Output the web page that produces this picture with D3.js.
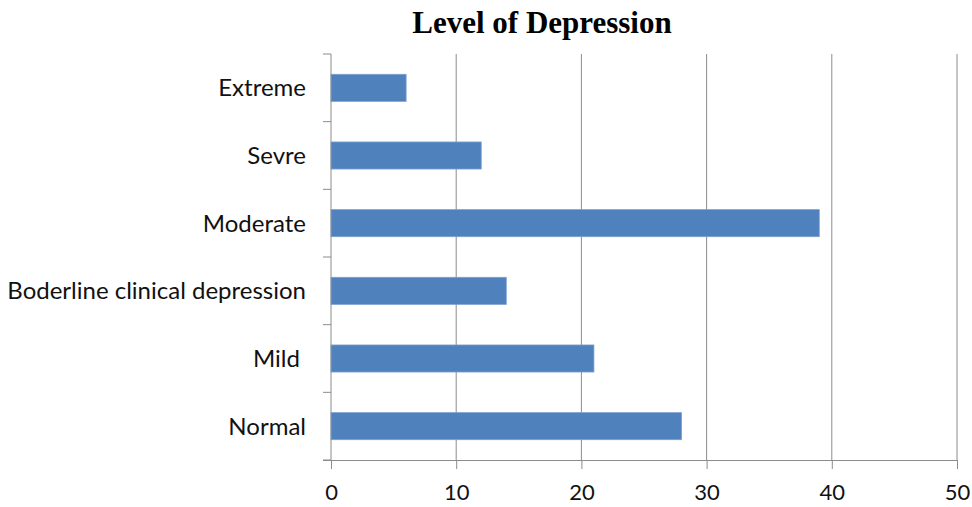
<!DOCTYPE html>
<html>
<head>
<meta charset="utf-8">
<script src="https://cdn.jsdelivr.net/npm/d3@7"></script>
<style>
  html, body { margin: 0; padding: 0; background: #fff; }
  svg { display: block; }
  .cat { white-space: pre; }
</style>
</head>
<body>
<svg id="chart" width="972" height="507"></svg>
<script>
// Depression level categories, listed top to bottom
const categories = ["Extreme", "Sevre", "Moderate", "Boderline clinical depression", "Mild ", "Normal"];
// Number of respondents per level
const counts = [6, 12, 39, 14, 21, 28];
// Value axis ticks
const xTicks = [0, 10, 20, 30, 40, 50];

const svg = d3.select("#chart");
const margin = { left: 331, right: 15, top: 54, bottom: 47 };
const W = 972, H = 507;

const x = d3.scaleLinear().domain([0, 50]).range([margin.left, W - margin.right]);
const y = d3.scaleBand().domain(categories).range([margin.top, H - margin.bottom]).paddingInner(0.6).paddingOuter(0.3);
const yOuter = d3.scaleBand().domain(categories).range([margin.top, H - margin.bottom]);

const labelFont = "Lato, 'Open Sans', sans-serif";
const gridColor = "#8c8c8c";

// Title
svg.append("text")
  .attr("x", 542).attr("y", 33)
  .attr("text-anchor", "middle")
  .attr("font-family", "'Liberation Serif', 'Times New Roman', serif")
  .attr("font-weight", "bold")
  .attr("font-size", 31)
  .attr("fill", "#000")
  .text("Level of Depression");

// Vertical gridlines
svg.append("g")
  .selectAll("line")
  .data(xTicks.slice(1))
  .join("line")
  .attr("x1", d => x(d)).attr("x2", d => x(d))
  .attr("y1", margin.top).attr("y2", H - margin.bottom)
  .attr("stroke", gridColor).attr("stroke-width", 1);

// Bars
svg.append("g")
  .selectAll("rect")
  .data(categories)
  .join("rect")
  .attr("x", x(0))
  .attr("y", d => y(d))
  .attr("width", (d, i) => x(counts[i]) - x(0))
  .attr("height", y.bandwidth())
  .attr("fill", "#4f81bd")
  .attr("stroke", "#7da0cf")
  .attr("stroke-width", 0.8);

// X axis
const xAxis = d3.axisBottom(x).tickValues(xTicks).tickSize(9).tickPadding(15);
const gx = svg.append("g")
  .attr("transform", `translate(0,${H - margin.bottom})`)
  .call(xAxis);
gx.select(".domain").attr("stroke", gridColor).attr("d", `M${x(0) - 8},0.5H${x(50)}`);
gx.selectAll(".tick line").attr("stroke", gridColor);
gx.selectAll(".tick text")
  .attr("font-family", labelFont).attr("font-size", 22).attr("fill", "#111");

// Y axis with boundary ticks between categories
const gy = svg.append("g");
gy.append("line")
  .attr("x1", x(0)).attr("x2", x(0))
  .attr("y1", margin.top).attr("y2", H - margin.bottom)
  .attr("stroke", gridColor);
const bounds = categories.map(c => yOuter(c)).concat([H - margin.bottom]);
gy.selectAll("line.tk")
  .data(bounds)
  .join("line")
  .attr("class", "tk")
  .attr("x1", x(0) - 8).attr("x2", x(0))
  .attr("y1", d => d).attr("y2", d => d)
  .attr("stroke", gridColor);
gy.selectAll("text")
  .data(categories)
  .join("text")
  .attr("class", "cat")
  .attr("x", x(0) - 25)
  .attr("y", d => yOuter(d) + yOuter.bandwidth() / 2)
  .attr("dy", "0.35em")
  .attr("text-anchor", "end")
  .attr("font-family", labelFont)
  .attr("font-size", 24)
  .attr("fill", "#111")
  .text(d => d);
</script>
</body>
</html>
